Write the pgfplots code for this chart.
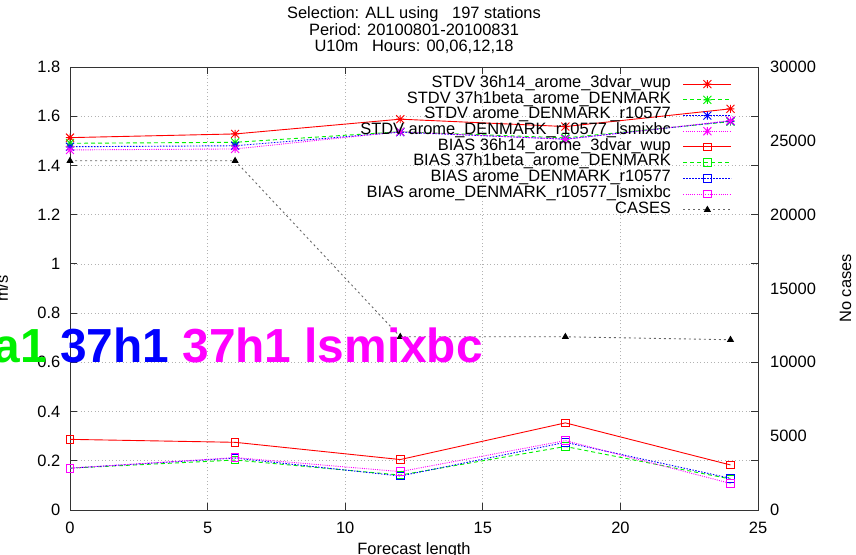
\documentclass[border=0pt]{standalone}
\usepackage{pgfplots}
\pgfplotsset{compat=1.18}
\usepackage{fontspec}
\setmainfont{Liberation Sans}
\pgfdeclareplotmark{gstar}{%
 \pgfpathmoveto{\pgfqpoint{-\pgfplotmarksize}{0pt}}\pgfpathlineto{\pgfqpoint{\pgfplotmarksize}{0pt}}%
 \pgfpathmoveto{\pgfqpoint{0pt}{-\pgfplotmarksize}}\pgfpathlineto{\pgfqpoint{0pt}{\pgfplotmarksize}}%
 \pgfpathmoveto{\pgfqpoint{-\pgfplotmarksize}{-\pgfplotmarksize}}\pgfpathlineto{\pgfqpoint{\pgfplotmarksize}{\pgfplotmarksize}}%
 \pgfpathmoveto{\pgfqpoint{-\pgfplotmarksize}{\pgfplotmarksize}}\pgfpathlineto{\pgfqpoint{\pgfplotmarksize}{-\pgfplotmarksize}}%
 \pgfusepathqstroke}
\definecolor{gred}{RGB}{255,0,0}
\definecolor{ggreen}{RGB}{0,240,0}
\definecolor{gblue}{RGB}{0,0,255}
\definecolor{gmag}{RGB}{255,0,255}
\pgfplotsset{
  every axis/.append style={
    scale only axis, width=688bp, height=443bp,
    xmin=0, xmax=25,
    font=\fontsize{16.5}{19}\selectfont,
    /pgf/number format/assume math mode=true,
    tick align=inside,
    major tick length=7bp,
    axis line style={black!80, line width=0.8bp},
    every tick/.style={black!80, line width=0.8bp},
  },
  lsty/.style={line width=0.9bp},
}
\begin{document}
\begin{tikzpicture}
\begin{axis}[
  ymin=0, ymax=1.8,
  xtick={0,5,...,25},
  ytick={0,0.2,...,1.8},
  tick pos=both,
  grid=major,
  grid style={black!30, dash pattern=on 1bp off 2.5bp, line width=0.7bp},
  yticklabel style={inner sep=0pt, anchor=east, xshift=-9.5bp},
  xticklabel style={inner sep=0pt, anchor=north, yshift=-12bp},
  /pgf/number format/fixed,
]
\addplot[gred, lsty, mark=gstar, mark size=4bp] coordinates {(0,1.513)(6,1.528)(12,1.588)(18,1.558)(24,1.630)};
\addplot[ggreen, lsty, dash pattern=on 4bp off 3bp, mark=gstar, mark size=4bp, mark options={solid}] coordinates {(0,1.490)(6,1.494)(12,1.537)(18,1.512)(24,1.578)};
\addplot[gblue, lsty, dash pattern=on 1.5bp off 1.5bp, mark=gstar, mark size=4bp, mark options={solid}] coordinates {(0,1.476)(6,1.480)(12,1.535)(18,1.507)(24,1.580)};
\addplot[gmag, lsty, dash pattern=on 1bp off 1.2bp, mark=gstar, mark size=4bp, mark options={solid}] coordinates {(0,1.463)(6,1.467)(12,1.537)(18,1.506)(24,1.582)};
\addplot[gred, lsty, mark=square, mark size=3.8bp] coordinates {(0,0.287)(6,0.275)(12,0.205)(18,0.354)(24,0.183)};
\addplot[ggreen, lsty, dash pattern=on 4bp off 3bp, mark=square, mark size=3.8bp, mark options={solid}] coordinates {(0,0.170)(6,0.203)(12,0.142)(18,0.258)(24,0.126)};
\addplot[gblue, lsty, dash pattern=on 1.5bp off 1.5bp, mark=square, mark size=3.8bp, mark options={solid}] coordinates {(0,0.170)(6,0.211)(12,0.138)(18,0.275)(24,0.129)};
\addplot[gmag, lsty, dash pattern=on 1bp off 1.2bp, mark=square, mark size=3.8bp, mark options={solid}] coordinates {(0,0.170)(6,0.213)(12,0.156)(18,0.282)(24,0.108)};
\end{axis}
\begin{axis}[
  ymin=0, ymax=30000,
  hide x axis,
  axis y line*=right,
  y axis line style={draw=none},
  ytick={0,5000,...,30000},
  major tick length=0pt,
  scaled y ticks=false,
  /pgf/number format/set thousands separator={},
  yticklabel style={inner sep=0pt, anchor=west, xshift=12bp},
  legend cell align=right,
  legend plot pos=right,
  legend style={at={(0.9666,0.984)}, anchor=north east, draw=none, fill=none,
    font=\fontsize{16.5}{19}\selectfont,
    nodes={inner sep=0pt, text height=11.2bp, text depth=4.5bp},
    row sep=0pt, column sep=12bp},
  legend image code/.code={\draw[mark repeat=2,mark phase=2] plot coordinates {(0bp,0bp)(24bp,0bp)(48bp,0bp)};},
]
\addlegendimage{gred, lsty, mark=gstar, mark size=4bp}
\addlegendentry{STDV 36h14\_arome\_3dvar\_wup}
\addlegendimage{ggreen, lsty, dash pattern=on 4bp off 3bp, mark=gstar, mark size=4bp, mark options={solid}}
\addlegendentry{STDV 37h1beta\_arome\_DENMARK}
\addlegendimage{gblue, lsty, dash pattern=on 1.5bp off 1.5bp, mark=gstar, mark size=4bp, mark options={solid}}
\addlegendentry{STDV arome\_DENMARK\_r10577}
\addlegendimage{gmag, lsty, dash pattern=on 1bp off 1.2bp, mark=gstar, mark size=4bp, mark options={solid}}
\addlegendentry{STDV arome\_DENMARK\_r10577\_lsmixbc}
\addlegendimage{gred, lsty, mark=square, mark size=3.8bp}
\addlegendentry{BIAS 36h14\_arome\_3dvar\_wup}
\addlegendimage{ggreen, lsty, dash pattern=on 4bp off 3bp, mark=square, mark size=3.8bp, mark options={solid}}
\addlegendentry{BIAS 37h1beta\_arome\_DENMARK}
\addlegendimage{gblue, lsty, dash pattern=on 1.5bp off 1.5bp, mark=square, mark size=3.8bp, mark options={solid}}
\addlegendentry{BIAS arome\_DENMARK\_r10577}
\addlegendimage{gmag, lsty, dash pattern=on 1bp off 1.2bp, mark=square, mark size=3.8bp, mark options={solid}}
\addlegendentry{BIAS arome\_DENMARK\_r10577\_lsmixbc}
\addplot[black!60, line width=0.9bp, dash pattern=on 2bp off 3bp, mark=triangle*, mark size=3.2bp, mark options={solid, black}] coordinates {(0,23650)(6,23650)(12,11730)(18,11730)(24,11530)};
\addlegendentry{CASES}
\end{axis}
\node[anchor=base, font=\fontsize{16.5}{19}\selectfont] at (344bp,491bp) {Selection: ALL using~~~197 stations};
\node[anchor=base, font=\fontsize{16.5}{19}\selectfont] at (344bp,474bp) {Period: 20100801-20100831};
\node[anchor=base, font=\fontsize{16.5}{19}\selectfont] at (344bp,458bp) {U10m~~~Hours: 00,06,12,18};
\node[anchor=base, font=\fontsize{16.5}{19}\selectfont] at (344bp,-44.8bp) {Forecast length};
\node[anchor=base, rotate=90, font=\fontsize{16.5}{19}\selectfont] at (-62bp,221.5bp) {m/s};
\node[anchor=base, rotate=90, font=\fontsize{16.5}{19}\selectfont] at (781bp,221.5bp) {No cases};
\node[anchor=base east, inner sep=0pt, font=\bfseries\fontsize{48}{52}\selectfont] at (413bp,147bp) {\textcolor{ggreen}{a1} \textcolor{gblue}{37h1} \textcolor{gmag}{37h1 lsmixbc}};
\pgfresetboundingbox
\path[use as bounding box] (-70bp,-45bp) rectangle (786bp,510bp);
\end{tikzpicture}
\end{document}
